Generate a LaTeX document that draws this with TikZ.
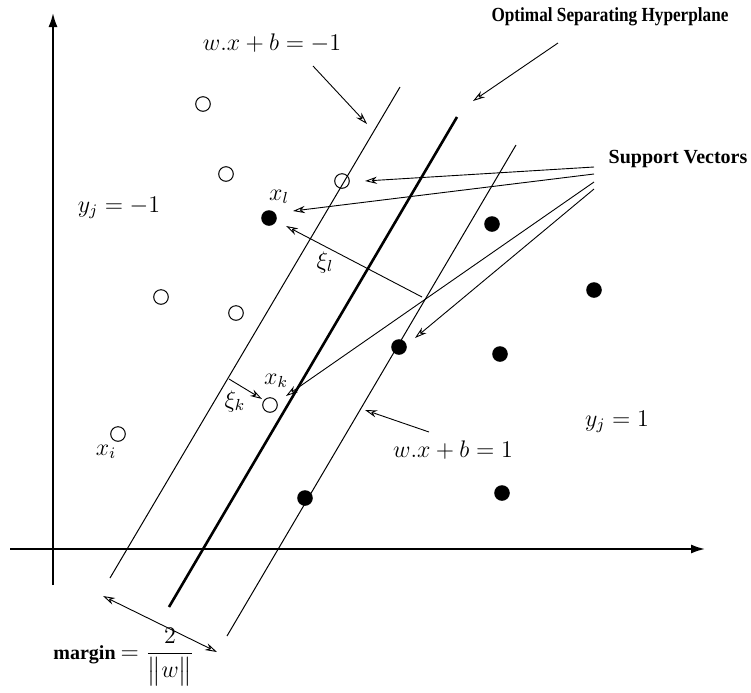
\documentclass[tikz,border=0pt]{standalone}
\usepackage{amsmath,amssymb}
\usepackage{fontspec}
\setmainfont{Liberation Serif}
\usepackage{tikz}
\usetikzlibrary{arrows.meta,positioning,calc}

\tikzset{
  negpt/.style={circle, draw, line width=0.5pt, inner sep=0pt, minimum size=7.3pt},
  pospt/.style={circle, fill, inner sep=0pt, minimum size=7.8pt},
  axis/.style={line width=1.4pt, -{Latex[length=7.5pt,width=4.5pt]}},
  plane/.style={line width=0.5pt},
  optplane/.style={line width=1.3pt},
  pointer/.style={line width=0.45pt, -{Stealth[open,length=6pt,width=3.6pt]}},
  lbl/.style={font=\fontsize{12}{14}\selectfont, inner sep=0pt},
  title/.style={font=\fontsize{10}{12}\selectfont\bfseries, inner sep=0pt}
}

\begin{document}
\begin{tikzpicture}[x=0.5pt, y=-0.5pt]
\useasboundingbox (0,0) rectangle (751,692);

% Axes
\coordinate (xa0) at (10,549);
\coordinate (xa1) at (706,549);
\coordinate (ya0) at (53,585);
\coordinate (ya1) at (53,12);
\draw[axis] (xa0) -- (xa1);
\draw[axis] (ya0) -- (ya1);

% Hyperplanes
\coordinate (mtop) at (400,87);  \coordinate (mbot) at (110,578);
\coordinate (otop) at (457,117); \coordinate (obot) at (169,607);
\coordinate (ptop) at (516,145); \coordinate (pbot) at (227,636);
\draw[plane] (mtop) -- (mbot);
\draw[optplane] (otop) -- (obot);
\draw[plane] (ptop) -- (pbot);

% Class -1 points
\foreach \n/\x/\y in {n1/203/104, n2/226/174, n3/342/181, n4/161/297,
                      n5/236/313, xi/118/434, xk/270/405}
  \node[negpt] (\n) at (\x,\y) {};

% Class +1 points
\foreach \n/\x/\y in {xl/269/218, p1/492/224, p2/594/290, p3/399/347,
                      p4/500/354, p5/502/493, p6/305/498}
  \node[pospt] (\n) at (\x,\y) {};

% Labels
\node[lbl] (eqm) at (272,43) {$w.x + b = -1$};
\node[lbl] (eqp) at (453,450) {$w.x + b = 1$};
\node[lbl] (yneg) at (119,208) {$y_{j} = -1$};
\node[lbl] (ypos) at (617,422) {$y_{j} = 1$};
\node[lbl] (lxl) at (279,197) {$x_{l}$};
\node[lbl] (lxk) at (276,381) {$x_{k}$};
\node[lbl] (lxi) at (106,452) {$x_{i}$};
\node[lbl] (lxil) at (325,262) {$\xi_{l}$};
\node[lbl] (lxik) at (235,401) {$\xi_{k}$};
\node[title] (osh) at (610,17) {\scalebox{0.86}[1]{Optimal Separating Hyperplane}};
\node[title] (sv) at (678,159) {Support Vectors};
\node[anchor=west, inner sep=0pt] (mrg) at (53,657)
  {\fontsize{10}{12}\selectfont\textbf{margin} \fontsize{12}{14}\selectfont$= \dfrac{2}{\big\| w \big\|}$};

% Pointers to the planes
\coordinate (em0) at (313,66);  \coordinate (em1) at (367,124);
\coordinate (os0) at (558,43);  \coordinate (os1) at (473,101);
\coordinate (ep0) at (429,432); \coordinate (ep1) at (365,410);
\draw[pointer] (em0) -- (em1);
\draw[pointer] (os0) -- (os1);
\draw[pointer] (ep0) -- (ep1);

% Support vectors
\coordinate (sv1) at (594,167); \coordinate (tn3) at (365,181);
\coordinate (sv2) at (594,174); \coordinate (txl) at (293,211);
\coordinate (sv3) at (594,182); \coordinate (txk) at (286,396);
\coordinate (sv4) at (594,189); \coordinate (tp3) at (415,338);
\foreach \a/\b in {sv1/tn3, sv2/txl, sv3/txk, sv4/tp3}
  \draw[pointer] (\a) -- (\b);

% Slack variables
\coordinate (xil0) at (422,297); \coordinate (xil1) at (286,226);
\coordinate (xik0) at (229,379); \coordinate (xik1) at (262,399);
\draw[pointer] (xil0) -- (xil1);
\draw[pointer] (xik0) -- (xik1);

% Margin
\coordinate (mg0) at (103,596); \coordinate (mg1) at (217,652);
\draw[pointer, {Stealth[open,length=6pt,width=3.6pt]}-{Stealth[open,length=6pt,width=3.6pt]}] (mg0) -- (mg1);
\end{tikzpicture}
\end{document}
